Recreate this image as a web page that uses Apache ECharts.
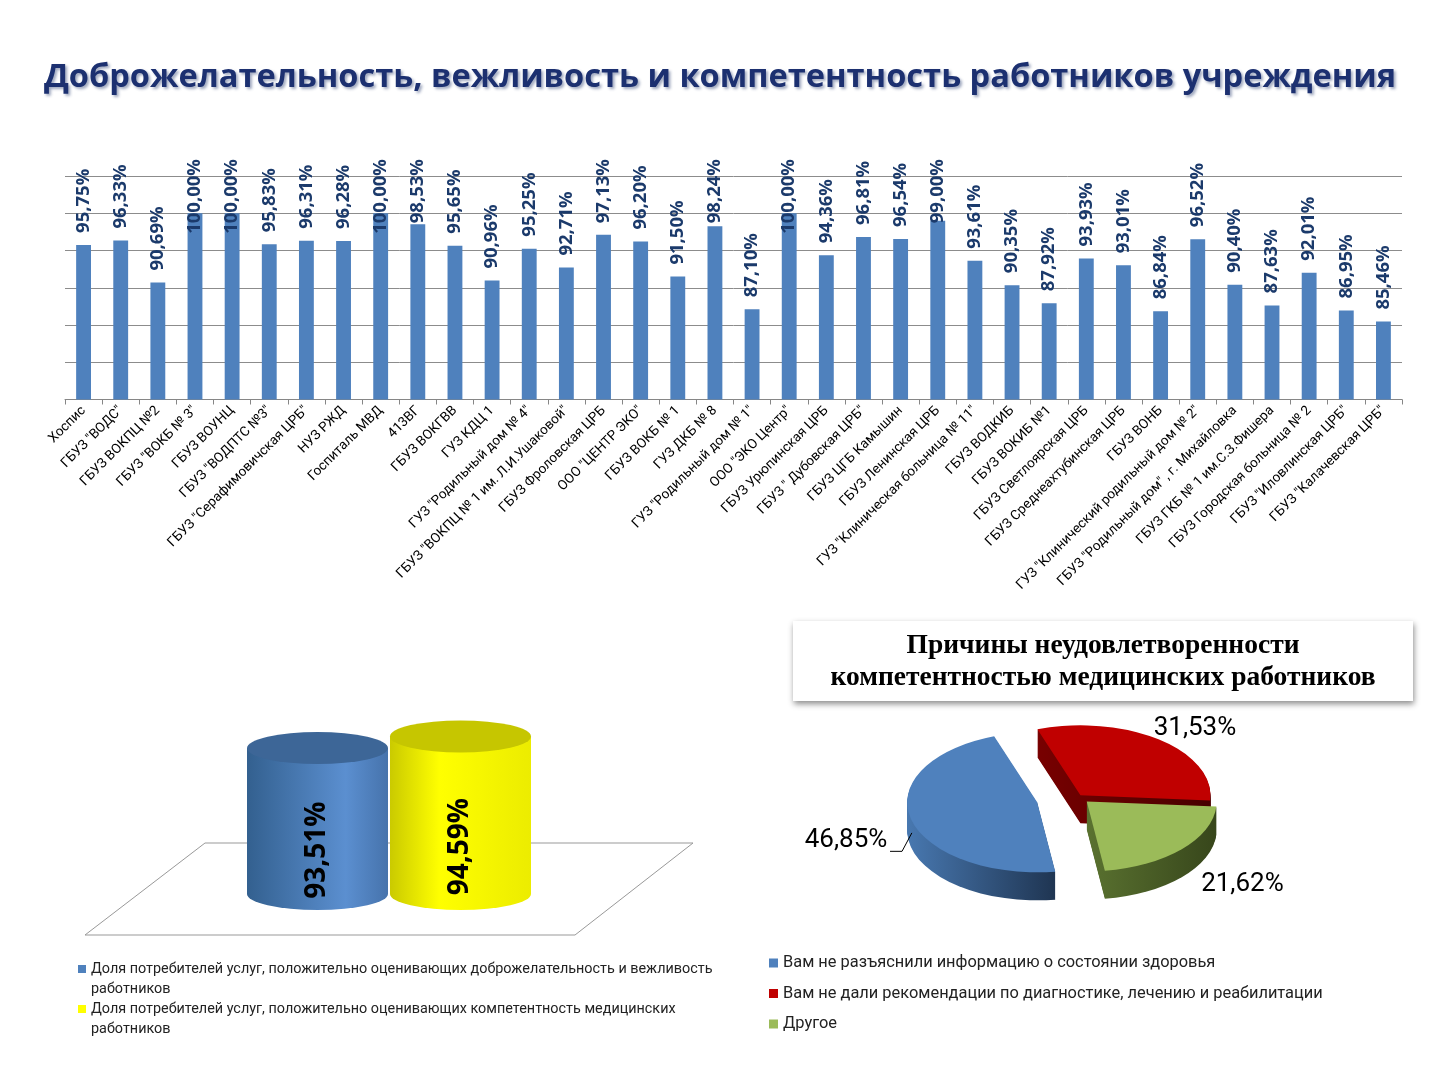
<!DOCTYPE html>
<html>
<head>
<meta charset="utf-8" />
<script src="https://cdn.jsdelivr.net/npm/echarts@6/dist/echarts.min.js"></script>
<style>
    html, body { margin: 0; padding: 0; background: #fff; }
    #main { width: 1440px; height: 1080px; }
</style>
</head>
<body>
<div id="main"></div>
<script>
// --- данные ---
var hospitals = [
    'Хоспис', 'ГБУЗ "ВОДС"', 'ГБУЗ ВОКПЦ №2', 'ГБУЗ "ВОКБ № 3"', 'ГБУЗ ВОУНЦ',
    'ГБУЗ "ВОДПТС №3"', 'ГБУЗ "Серафимовичская ЦРБ"', 'НУЗ РЖД', 'Госпиталь МВД', '413ВГ',
    'ГБУЗ ВОКГВВ', 'ГУЗ КДЦ 1', 'ГУЗ "Родильный дом № 4"', 'ГБУЗ "ВОКПЦ № 1 им. Л.И.Ушаковой"',
    'ГБУЗ Фроловская ЦРБ', 'ООО "ЦЕНТР ЭКО"', 'ГБУЗ ВОКБ № 1', 'ГУЗ ДКБ № 8',
    'ГУЗ "Родильный дом № 1"', 'ООО "ЭКО Центр"', 'ГБУЗ Урюпинская ЦРБ', 'ГБУЗ " Дубовская ЦРБ"',
    'ГБУЗ ЦГБ Камышин', 'ГБУЗ Ленинская ЦРБ', 'ГУЗ "Клиническая больница № 11"', 'ГБУЗ ВОДКИБ',
    'ГБУЗ ВОКИБ №1', 'ГБУЗ Светлоярская ЦРБ', 'ГБУЗ Среднеахтубинская ЦРБ', 'ГБУЗ ВОНБ',
    'ГУЗ "Клинический родильный дом № 2"', 'ГБУЗ "Родильный дом" , г. Михайловка',
    'ГБУЗ ГКБ № 1 им.С.З.Фишера', 'ГБУЗ Городская больница № 2', 'ГБУЗ "Иловлинская ЦРБ"',
    'ГБУЗ "Калачевская ЦРБ"'
];
var politeness = [
    95.75, 96.33, 90.69, 100.00, 100.00, 95.83, 96.31, 96.28, 100.00, 98.53,
    95.65, 90.96, 95.25, 92.71, 97.13, 96.20, 91.50, 98.24, 87.10, 100.00,
    94.36, 96.81, 96.54, 99.00, 93.61, 90.35, 87.92, 93.93, 93.01, 86.84,
    96.52, 90.40, 87.63, 92.01, 86.95, 85.46
];

var cylNames = [
    'Доля потребителей услуг, положительно оценивающих доброжелательность и вежливость работников',
    'Доля потребителей услуг, положительно оценивающих компетентность медицинских работников'
];
var cylValues = [93.51, 94.59];

var reasonNames = [
    'Вам не разъяснили информацию о состоянии здоровья',
    'Вам не дали рекомендации по диагностике, лечению и реабилитации',
    'Другое'
];
var reasonValues = [46.85, 31.53, 21.62];

// --- оформление ---
var cylTop = ['#3d6697', '#c6c600'];
var cylBody = [
    [{ offset: 0, color: '#33608f' }, { offset: 0.7, color: '#5b8fd0' }, { offset: 1, color: '#4673ac' }],
    [{ offset: 0, color: '#caca00' }, { offset: 0.35, color: '#ffff00' }, { offset: 1, color: '#ecec00' }]
];
var CYL_MIN = 80;

var PIE = { cx: 1078, cy: 797, rx: 130, ry: 70, depth: 28, startDeg: 172, labelR: 1.45 };
var pieTop = ['#4F81BD', '#C00000', '#9BBB59'];
var pieSide = [['#4878b0', '#1f3552'], ['#780000', '#470000'], ['#5a7230', '#37461b']];
var pieExplode = [42, 4, 12];

function pct(v) {
    return v.toFixed(2).replace('.', ',') + '%';
}

var total = reasonValues.reduce(function (a, b) { return a + b; }, 0);

function pieSlice(i) {
    return function (params, api) {
        var before = 0;
        for (var k = 0; k < i; k++) before += reasonValues[k];
        var a0 = PIE.startDeg + before / total * 360;
        var a1 = a0 + api.value(0) / total * 360;
        var am = (a0 + a1) / 2 * Math.PI / 180;
        var s = PIE.ry / PIE.rx;
        var ox = PIE.cx + pieExplode[i] * Math.sin(am);
        var oy = PIE.cy - pieExplode[i] * Math.cos(am) * s;
        var shape = {
            cx: 0, cy: 0, r: PIE.rx, r0: 0,
            startAngle: (a0 - 90) * Math.PI / 180,
            endAngle: (a1 - 90) * Math.PI / 180,
            clockwise: true
        };
        var sideFill = new echarts.graphic.LinearGradient(0, 0, 1, 0, [
            { offset: 0, color: pieSide[i][0] }, { offset: 1, color: pieSide[i][1] }
        ]);
        var children = [];
        for (var d = PIE.depth; d >= 1; d--) {
            children.push({
                type: 'group', x: ox, y: oy + d, scaleY: s,
                children: [{ type: 'sector', shape: shape, style: { fill: sideFill } }]
            });
        }
        children.push({
            type: 'group', x: ox, y: oy, scaleY: s,
            children: [{ type: 'sector', shape: shape, style: { fill: pieTop[i] } }]
        });
        var lx = ox + PIE.labelR * PIE.rx * Math.sin(am);
        var ly = oy - PIE.labelR * PIE.rx * Math.cos(am) * s + PIE.depth / 2;
        if (Math.sin(am) < -0.5) lx -= 8;
        if (Math.sin(am) > 0.5 && Math.cos(am) < 0) lx += 18;
        children.push({
            type: 'text', x: lx, y: ly,
            style: {
                text: pct(api.value(0)), fill: '#000', align: 'center', verticalAlign: 'middle',
                font: '26px Roboto'
            }
        });
        if (Math.sin(am) < -0.5) {
            // выноска для подписи слева
            var rimX = ox + PIE.rx * Math.sin(am);
            var rimY = oy - PIE.rx * Math.cos(am) * s + PIE.depth / 2;
            var endX = lx + 44;
            children.push({
                type: 'polyline',
                shape: { points: [[endX, ly + 11], [endX + 12, ly + 11], [rimX + 1, rimY]] },
                style: { stroke: '#000', lineWidth: 1, fill: null }
            });
        }
        return { type: 'group', children: children };
    };
}

function cylinder(i) {
    return function (params, api) {
        var base = api.coord([api.value(0), CYL_MIN]);
        var top = api.coord([api.value(0), api.value(1)]);
        var rx = api.size([1, 0])[0] / 2 - 1;
        var ry = 16;
        var s = ry / rx;
        var cx = top[0];
        var body = new echarts.graphic.LinearGradient(0, 0, 1, 0, cylBody[i]);
        return {
            type: 'group',
            children: [
                { type: 'group', x: cx, y: base[1], scaleY: s,
                  children: [{ type: 'circle', shape: { cx: 0, cy: 0, r: rx }, style: { fill: body } }] },
                { type: 'rect', shape: { x: cx - rx, y: top[1], width: 2 * rx, height: base[1] - top[1] },
                  style: { fill: body } },
                { type: 'group', x: cx, y: top[1], scaleY: s,
                  children: [{ type: 'circle', shape: { cx: 0, cy: 0, r: rx }, style: { fill: cylTop[i] } }] },
                { type: 'text', x: cx, y: base[1] - 0.3 * (base[1] - top[1]), rotation: Math.PI / 2,
                  style: { text: pct(api.value(1)), fill: '#000', align: 'center', verticalAlign: 'middle',
                           font: 'bold 28px "Open Sans"' } }
            ]
        };
    };
}

var myChart = echarts.init(document.getElementById('main'));

var series = [
    {
        name: 'politeness',
        type: 'bar',
        xAxisIndex: 0,
        yAxisIndex: 0,
        data: politeness,
        barWidth: '40%',
        itemStyle: { color: '#4F81BD' },
        label: {
            show: true,
            position: 'top',
            distance: 12,
            rotate: 90,
            align: 'left',
            verticalAlign: 'middle',
            fontFamily: 'Open Sans',
            fontSize: 18.5,
            fontWeight: 'bold',
            color: '#1B3A6B',
            formatter: function (p) { return pct(p.value); }
        },
        labelLayout: function (p) {
            var r = p.labelRect;
            if (r.y < 159) {
                return { y: 159 + r.height };
            }
        }
    }
];

cylValues.forEach(function (v, i) {
    series.push({
        name: cylNames[i],
        type: 'custom',
        xAxisIndex: 1,
        yAxisIndex: 1,
        itemStyle: { color: i === 0 ? '#4F81BD' : '#FFFF00' },
        renderItem: cylinder(i),
        data: [[i, v]]
    });
});

reasonValues.forEach(function (v, i) {
    series.push({
        name: reasonNames[i],
        type: 'custom',
        coordinateSystem: 'none',
        itemStyle: { color: pieTop[i] },
        renderItem: pieSlice(i),
        data: [[v]]
    });
});

var option = {
    backgroundColor: '#fff',
    animation: false,
    title: {
        text: 'Доброжелательность, вежливость и компетентность работников учреждения',
        left: 'center',
        top: 56,
        textStyle: {
            fontFamily: 'Open Sans',
            fontSize: 32.6,
            fontWeight: 'bold',
            color: '#1C3070',
            textShadowColor: 'rgba(40,60,110,0.45)',
            textShadowBlur: 3,
            textShadowOffsetX: 2,
            textShadowOffsetY: 2
        }
    },
    grid: [
        { left: 65, right: 38, top: 176, height: 223.5 },
        { left: 246, width: 286, top: 678, height: 216 }
    ],
    xAxis: [
        {
            type: 'category',
            gridIndex: 0,
            data: hospitals,
            axisLine: { lineStyle: { color: '#868686' } },
            axisTick: { show: true, length: 5, lineStyle: { color: '#868686' } },
            axisLabel: {
                interval: 0,
                rotate: 45,
                margin: 9,
                fontFamily: 'Roboto',
                fontSize: 13.5,
                color: '#000'
            }
        },
        {
            type: 'category',
            gridIndex: 1,
            data: ['', ''],
            show: false
        }
    ],
    yAxis: [
        {
            type: 'value',
            gridIndex: 0,
            min: 75,
            max: 105,
            interval: 5,
            axisLabel: { show: false },
            axisLine: { show: false },
            axisTick: { show: false },
            splitLine: { lineStyle: { color: '#8c8c8c' } }
        },
        {
            type: 'value',
            gridIndex: 1,
            min: CYL_MIN,
            max: 100,
            show: false,
            splitLine: { show: false }
        }
    ],
    legend: [
        {
            data: cylNames,
            orient: 'vertical',
            left: 78,
            top: 939,
            padding: 0,
            itemGap: -20,
            itemWidth: 8,
            itemHeight: 8,
            icon: 'rect',
            // первая строка подписи — напротив значка
            formatter: function (name) { return ' \n' + name.replace(/ (\S+)$/, '\n$1'); },
            textStyle: {
                fontFamily: 'Roboto',
                fontSize: 14.4,
                lineHeight: 20,
                color: '#222'
            }
        },
        {
            data: reasonNames,
            orient: 'vertical',
            left: 769,
            top: 954,
            padding: 0,
            itemGap: 12.5,
            itemWidth: 9,
            itemHeight: 9,
            icon: 'rect',
            textStyle: {
                fontFamily: 'Roboto',
                fontSize: 16.4,
                lineHeight: 18,
                color: '#222'
            }
        }
    ],
    graphic: [
        {
            type: 'polygon',
            z: 0,
            shape: { points: [[85, 935], [205, 843], [693, 843], [575, 935]] },
            style: { fill: '#fff', stroke: '#999', lineWidth: 1 }
        },
        {
            type: 'rect',
            shape: { x: 793, y: 621, width: 620, height: 80 },
            style: {
                fill: '#fff',
                shadowBlur: 6,
                shadowColor: 'rgba(0,0,0,0.45)',
                shadowOffsetX: 1,
                shadowOffsetY: 3
            }
        },
        {
            type: 'text',
            x: 1103,
            y: 662,
            style: {
                text: 'Причины неудовлетворенности\nкомпетентностью медицинских работников',
                font: 'bold 27.5px "Liberation Serif"',
                lineHeight: 32,
                fill: '#000',
                align: 'center',
                verticalAlign: 'middle'
            }
        }
    ],
    series: series
};

myChart.setOption(option);
</script>
</body>
</html>
